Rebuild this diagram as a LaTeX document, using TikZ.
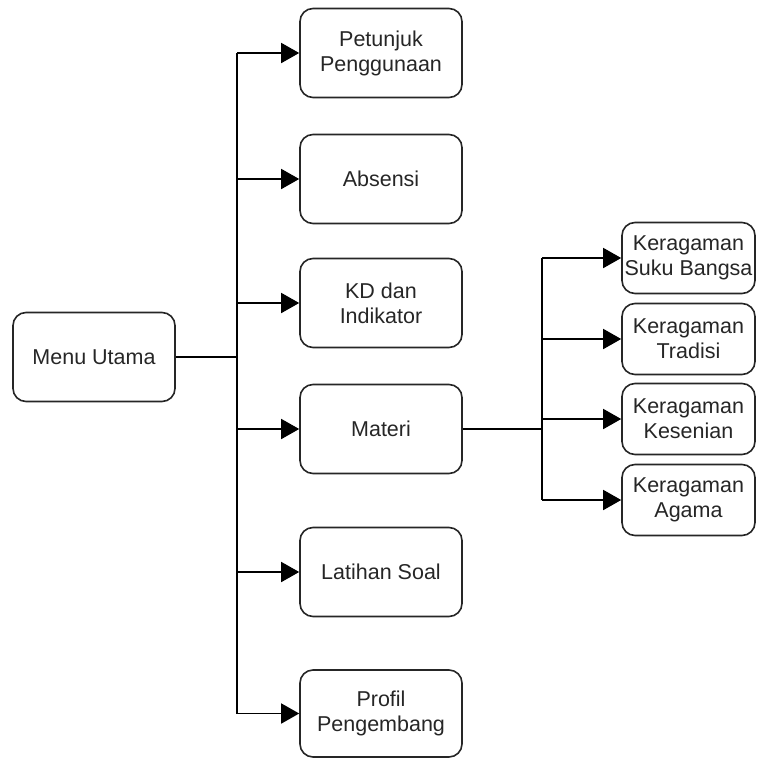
\documentclass[tikz,border=0pt]{standalone}
\usepackage{fontspec}
\setmainfont{Liberation Sans}
\usetikzlibrary{arrows.meta}
\begin{document}
\begin{tikzpicture}[x=1pt,y=-1pt,
  box/.style={draw=black!85, line width=1.6pt, rounded corners=13pt, align=center,
    font=\fontsize{21.5}{25}\selectfont, text=black!85, inner sep=0pt},
  mainbox/.style={box, minimum width=162pt, minimum height=89pt},
  subbox/.style={box, minimum width=133pt, minimum height=71pt},
  conn/.style={line width=1.6pt, draw=black},
  arr/.style={conn, -{Triangle[length=18pt,width=20pt]}}]
\useasboundingbox (0,0) rectangle (757,758);
\node[mainbox] (menu) at (94,357) {Menu Utama};
\node[mainbox] (p1) at (381,53) {Petunjuk\\Penggunaan};
\node[mainbox] (p2) at (381,179) {Absensi};
\node[mainbox] (p3) at (381,303) {KD dan\\Indikator};
\node[mainbox] (p4) at (381,429) {Materi};
\node[mainbox] (p5) at (381,572) {Latihan Soal};
\node[mainbox, minimum height=87pt] (p6) at (381,713.5) {Profil\\Pengembang};
\node[subbox] (k1) at (688.5,258) {Keragaman\\Suku Bangsa};
\node[subbox] (k2) at (688.5,339) {Keragaman\\Tradisi};
\node[subbox] (k3) at (688.5,419) {Keragaman\\Kesenian};
\node[subbox] (k4) at (688.5,500) {Keragaman\\Agama};
\coordinate (t1) at (237,0);
\coordinate (t2) at (542,0);
\draw[conn] (menu.east) -- (t1 |- menu.east);
\draw[conn] (t1 |- p1.west) -- (t1 |- p6.west);
\foreach \n in {p1,p2,p3,p4,p5,p6}
  \draw[arr] (t1 |- \n.west) -- (\n.west);
\draw[conn] (p4.east) -- (t2 |- p4.east);
\draw[conn] (t2 |- k1.west) -- (t2 |- k4.west);
\foreach \n in {k1,k2,k3,k4}
  \draw[arr] (t2 |- \n.west) -- (\n.west);
\end{tikzpicture}
\end{document}
